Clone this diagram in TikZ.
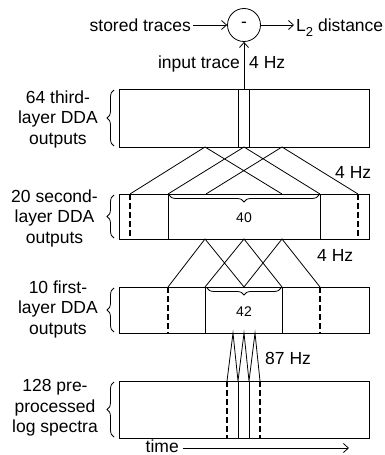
\documentclass[tikz,border=0pt]{standalone}
\usepackage{fontspec}
\setmainfont{Liberation Sans}
\usetikzlibrary{arrows.meta,decorations.pathreplacing}
\begin{document}
\begin{tikzpicture}[x=1pt,y=-1pt,
  lbl/.style={font=\fontsize{17.5}{20.5}\selectfont, inner sep=0pt, align=center},
  small/.style={font=\fontsize{14}{16}\selectfont, inner sep=0pt},
  box/.style={draw, line width=0.9pt, inner sep=0pt, anchor=north west, minimum width=250pt},
  ln/.style={line width=0.8pt},
  dsh/.style={line width=1.5pt, dash pattern=on 6pt off 3pt},
  arr/.style={line width=0.8pt, -{Straight Barb[length=5pt,width=9pt]}},
  lbrace/.style={decorate, decoration={brace, amplitude=7pt}, line width=0.8pt},
]
\useasboundingbox (0,0) rectangle (384,455);

% boxes
\node[box, minimum height=58pt] (B3) at (119,89) {};
\node[box, minimum height=45pt] (B2) at (119,194) {};
\node[box, minimum height=46pt] (B1) at (119,287) {};
\node[box, minimum height=57pt] (B0) at (119,381) {};

% inner lines
\draw[ln] (238,89) -- (238,147) (249,89) -- (249,147);
\draw[dsh] (130,194) -- (130,239) (358,194) -- (358,239);
\draw[ln] (168,194) -- (168,239) (320,194) -- (320,239);
\draw[dsh] (168,287) -- (168,333) (320,287) -- (320,333);
\draw[ln] (205,287) -- (205,333) (282,287) -- (282,333);
\draw[dsh] (227,381) -- (227,438) (260,381) -- (260,438);
\draw[ln] (238,381) -- (238,438) (249,381) -- (249,438);

% inner braces and counts
\draw[lbrace] (319,195) -- (169,195);
\node[small] (n40) at (244,218) {40};
\draw[lbrace] (281,288) -- (207,288);
\node[small] (n42) at (244,312) {42};

% connection points
\coordinate (a1) at (205,147); \coordinate (a2) at (244,147); \coordinate (a3) at (282,147);
\coordinate (b1) at (130,194); \coordinate (b2) at (168,194); \coordinate (b3) at (206,194);
\coordinate (b4) at (282,194); \coordinate (b5) at (320,194); \coordinate (b6) at (358,194);
\draw[ln] (b1) -- (a1) -- (b4) (b2) -- (a2) -- (b5) (b3) -- (a3) -- (b6);

\coordinate (c1) at (205,239); \coordinate (c2) at (244,239); \coordinate (c3) at (282,239);
\coordinate (d1) at (168,287); \coordinate (d2) at (205,287); \coordinate (d3) at (244,287);
\coordinate (d4) at (282,287); \coordinate (d5) at (320,287);
\draw[ln] (d1) -- (c1) -- (d3) (d2) -- (c2) -- (d4) (d3) -- (c3) -- (d5);

\coordinate (e1) at (233,333); \coordinate (e2) at (244,333); \coordinate (e3) at (255,333);
\coordinate (f1) at (227,381); \coordinate (f2) at (238,381); \coordinate (f3) at (249,381); \coordinate (f4) at (260,381);
\draw[ln] (f1) -- (e1) -- (f2) (f2) -- (e2) -- (f3) (f3) -- (e3) -- (f4);

% top part
\node[draw, circle, ln, minimum size=33pt, inner sep=0pt, font=\fontsize{17.5}{20}\selectfont] (sub) at (244,25) {-};
\node[lbl, anchor=east] (st) at (191,25) {stored traces};
\node[lbl, anchor=base west] (l2) at (296,31) {L\raisebox{-0.55ex}{\fontsize{13}{13}\selectfont 2} distance};
\draw[arr] (st.east) ++(2,0) -- (sub.west);
\draw[arr] (sub.east) -- ([xshift=-2pt]l2.west |- sub.east);
\coordinate (top3) at (244,89);
\draw[arr] (top3) -- (sub.south);
\node[lbl, anchor=base east] (it) at (240,68) {input trace};
\node[lbl, anchor=base west] (hz1) at (249,68) {4 Hz};

% rate labels
\node[lbl, anchor=base west] (hz2) at (335,178) {4 Hz};
\node[lbl, anchor=base west] (hz3) at (317,261) {4 Hz};
\node[lbl, anchor=base west] (hz4) at (265,364) {87 Hz};

% left labels and braces
\node[lbl, anchor=east] (L3) at (98,119) {64 third-\\layer DDA\\outputs};
\draw[lbrace] (114,146) -- (114,90);
\node[lbl, anchor=east] (L2) at (98,218) {20 second-\\layer DDA\\outputs};
\draw[lbrace] (114,238) -- (114,195);
\node[lbl, anchor=east] (L1) at (98,309) {10 first-\\layer DDA\\outputs};
\draw[lbrace] (114,332) -- (114,288);
\node[lbl, anchor=east] (L0) at (98,408) {128 pre-\\processed\\log spectra};
\draw[lbrace] (114,437) -- (114,382);

% time axis
\node[lbl, anchor=base east] (time) at (179,452.5) {time};
\coordinate (tend) at (349,448);
\draw[arr] ([xshift=4pt]time.east |- tend) -- (tend);
\end{tikzpicture}
\end{document}
